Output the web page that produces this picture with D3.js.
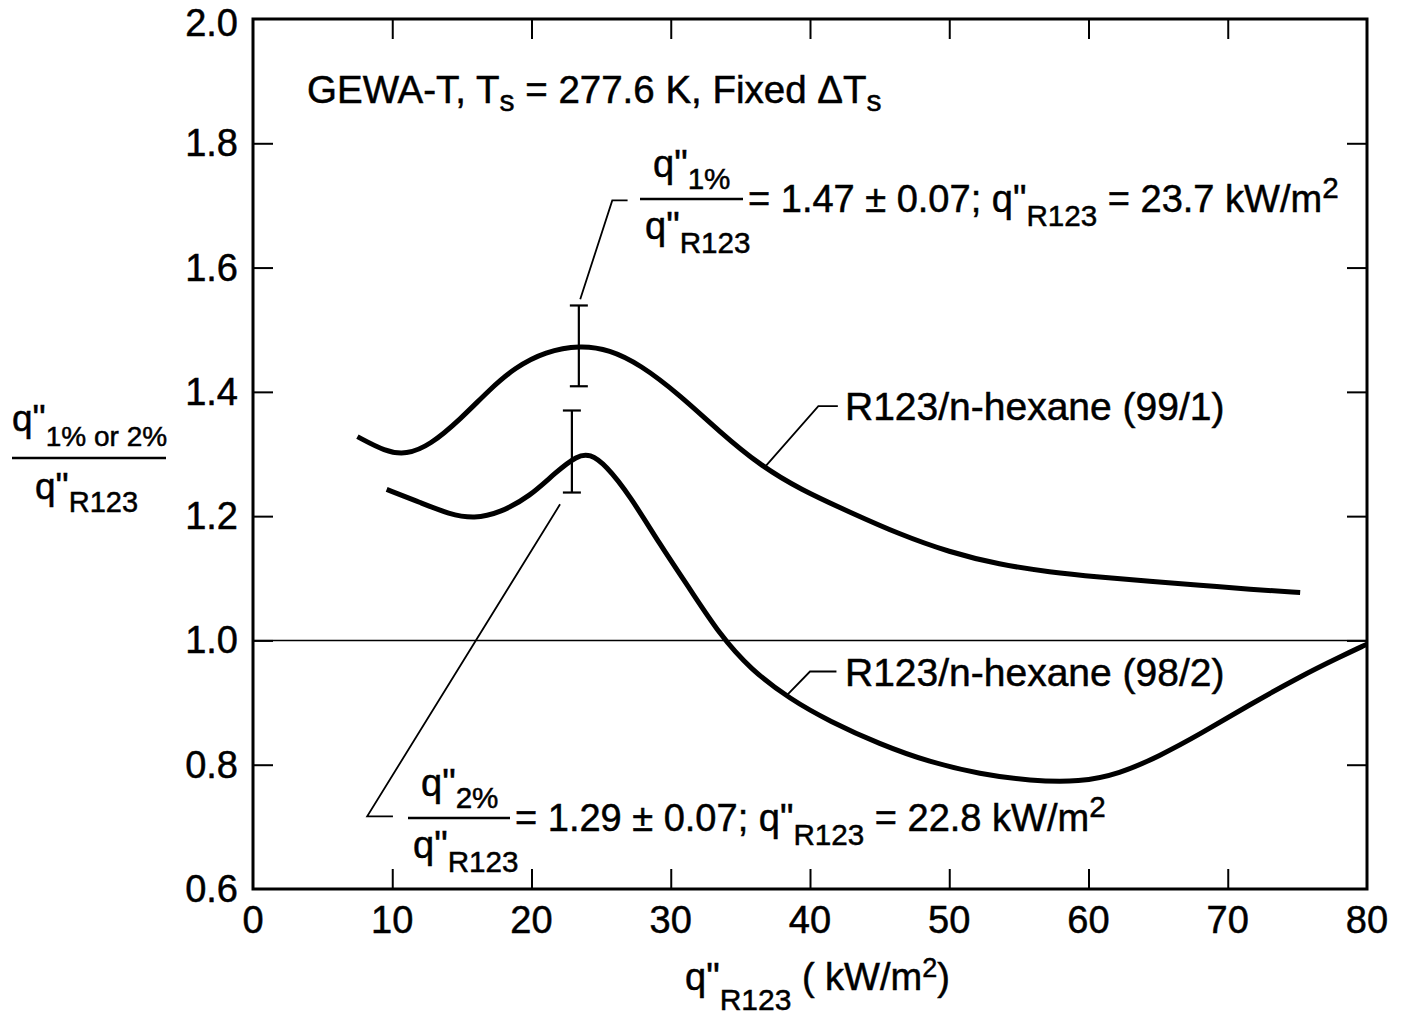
<!DOCTYPE html>
<html>
<head>
<meta charset="utf-8">
<script src="https://cdn.jsdelivr.net/npm/d3@7"></script>
<style>
  body { margin: 0; background: #fff; }
  text { font-family: "Liberation Sans", Arial, Helvetica, sans-serif; fill: #000; stroke: #000; stroke-width: 0.5; }
</style>
</head>
<body>
<div id="chart"></div>
<script>
// heat flux q"R123 (kW/m2) and ratio q"mix / q"R123
const hex99x = [7.5, 9.5, 11.0, 12.7, 14.9, 17.0, 18.8, 21.0, 23.5, 25.6, 27.8, 30.6, 33.5, 36.4, 39.3, 42.9, 46.4, 50.0, 53.6, 57.2, 60.8, 64.4, 68.0, 71.6, 75.2]
const hex99y = [1.328, 1.304, 1.299, 1.314, 1.356, 1.404, 1.439, 1.465, 1.475, 1.468, 1.444, 1.396, 1.336, 1.282, 1.243, 1.206, 1.171, 1.142, 1.122, 1.110, 1.102, 1.095, 1.089, 1.082, 1.077]

const hex98x = [9.6, 12.0, 14.1, 15.9, 17.7, 19.9, 21.7, 23.3, 24.2, 25.3, 27.1, 29.2, 31.4, 33.5, 35.7, 38.6, 41.4, 45.0, 48.6, 52.2, 55.8, 59.4, 62.2, 65.1, 68.0, 71.6, 75.2, 78.0, 80.0]
const hex98y = [1.243, 1.222, 1.203, 1.196, 1.205, 1.232, 1.270, 1.298, 1.300, 1.283, 1.232, 1.155, 1.082, 1.010, 0.954, 0.905, 0.870, 0.833, 0.804, 0.785, 0.774, 0.772, 0.785, 0.814, 0.849, 0.897, 0.942, 0.973, 0.994]

// error bars at the peaks: [x, low, high]
const err99 = [23.4, 1.409, 1.539]
const err98 = [22.9, 1.238, 1.370]

const xTicks = [0, 10, 20, 30, 40, 50, 60, 70, 80]
const yTicks = [0.6, 0.8, 1.0, 1.2, 1.4, 1.6, 1.8, 2.0]

const W = 1402, H = 1027

const svg = d3.select('#chart')
  .append('svg')
  .attr('width', W)
  .attr('height', H)

const x = d3.scaleLinear().domain([0, 80]).range([253, 1367])
const y = d3.scaleLinear().domain([0.6, 2.0]).range([889, 19])

// ticks inside, on all four sides
svg.append('g')
  .attr('transform', 'translate(0,' + y(0.6) + ')')
  .call(d3.axisBottom(x).tickValues(xTicks.slice(1, -1)).tickSizeInner(-20).tickSizeOuter(0).tickFormat(''))
svg.append('g')
  .attr('transform', 'translate(0,' + y(2.0) + ')')
  .call(d3.axisTop(x).tickValues(xTicks.slice(1, -1)).tickSizeInner(-20).tickSizeOuter(0).tickFormat(''))
svg.append('g')
  .attr('transform', 'translate(' + x(0) + ',0)')
  .call(d3.axisLeft(y).tickValues(yTicks.slice(1, -1)).tickSizeInner(-20).tickSizeOuter(0).tickFormat(''))
svg.append('g')
  .attr('transform', 'translate(' + x(80) + ',0)')
  .call(d3.axisRight(y).tickValues(yTicks.slice(1, -1)).tickSizeInner(-20).tickSizeOuter(0).tickFormat(''))

svg.selectAll('.domain').remove()
svg.selectAll('.tick line').attr('stroke', '#000').attr('stroke-width', 2)

svg.append('rect')
  .attr('x', x(0)).attr('y', y(2.0))
  .attr('width', x(80) - x(0)).attr('height', y(0.6) - y(2.0))
  .attr('fill', 'none').attr('stroke', '#000').attr('stroke-width', 3)

// tick labels
svg.selectAll('.xl')
  .data(xTicks)
  .enter()
  .append('text')
  .attr('x', d => x(d))
  .attr('y', 933)
  .attr('text-anchor', 'middle')
  .attr('font-size', 38)
  .text(d => d)

svg.selectAll('.yl')
  .data(yTicks)
  .enter()
  .append('text')
  .attr('x', 238)
  .attr('y', d => Math.max(y(d) + 13, 36))
  .attr('text-anchor', 'end')
  .attr('font-size', 38)
  .text(d => d.toFixed(1))

// reference line at 1.0
svg.append('line')
  .attr('x1', x(0)).attr('x2', x(80))
  .attr('y1', y(1.0)).attr('y2', y(1.0))
  .attr('stroke', '#000').attr('stroke-width', 1.5)

const line = d3.line()
  .x(d => x(d[0]))
  .y(d => y(d[1]))
  .curve(d3.curveBasis)

svg.append('path')
  .datum(d3.zip(hex99x, hex99y))
  .attr('d', line)
  .attr('fill', 'none').attr('stroke', '#000').attr('stroke-width', 5)

svg.append('path')
  .datum(d3.zip(hex98x, hex98y))
  .attr('d', line)
  .attr('fill', 'none').attr('stroke', '#000').attr('stroke-width', 5)

// error bars
for (const e of [err99, err98]) {
  const g = svg.append('g').attr('stroke', '#000').attr('stroke-width', 2.2)
  g.append('line').attr('x1', x(e[0])).attr('x2', x(e[0])).attr('y1', y(e[1])).attr('y2', y(e[2]))
  g.append('line').attr('x1', x(e[0]) - 9).attr('x2', x(e[0]) + 9).attr('y1', y(e[1])).attr('y2', y(e[1]))
  g.append('line').attr('x1', x(e[0]) - 9).attr('x2', x(e[0]) + 9).attr('y1', y(e[2])).attr('y2', y(e[2]))
}

// leader lines (data units)
const leaders = [
  [[23.5, 1.549], [25.8, 1.708], [26.9, 1.708]],
  [[22.05, 1.219], [8.2, 0.717], [10.05, 0.717]],
  [[36.8, 1.280], [40.6, 1.377], [42.0, 1.377]],
  [[38.4, 0.913], [40.0, 0.950], [41.9, 0.950]]
]
const straight = d3.line().x(d => x(d[0])).y(d => y(d[1]))
svg.selectAll('.leader')
  .data(leaders)
  .enter()
  .append('path')
  .attr('d', straight)
  .attr('fill', 'none').attr('stroke', '#000').attr('stroke-width', 1.8)

// series labels
svg.append('text').attr('x', 845).attr('y', y(1.377) + 14).attr('font-size', 39).text('R123/n-hexane (99/1)')
svg.append('text').attr('x', 845).attr('y', y(0.950) + 14).attr('font-size', 39).text('R123/n-hexane (98/2)')

// title
const t = svg.append('text').attr('x', 307).attr('y', 103).attr('font-size', 38.5)
t.append('tspan').text('GEWA-T, T')
t.append('tspan').attr('font-size', 30).attr('dy', 8).text('s')
t.append('tspan').attr('dy', -8).text(' = 277.6 K, Fixed ΔT')
t.append('tspan').attr('font-size', 30).attr('dy', 8).text('s')

// fraction helper: q"sub / q"R123 = rest
function fraction(x0, x1, yb, numSub, parts, fs) {
  const n = svg.append('text').attr('x', x0 + 13).attr('y', yb - 22).attr('font-size', fs)
  n.append('tspan').text('q"')
  n.append('tspan').attr('font-size', fs * 0.78).attr('dy', 12).text(numSub)
  svg.append('line').attr('x1', x0).attr('x2', x1).attr('y1', yb).attr('y2', yb)
    .attr('stroke', '#000').attr('stroke-width', 2.5)
  const dn = svg.append('text').attr('x', x0 + 5).attr('y', yb + 40).attr('font-size', fs)
  dn.append('tspan').text('q"')
  dn.append('tspan').attr('font-size', fs * 0.78).attr('dy', 14).text('R123')
  const m = svg.append('text').attr('x', x1 + 5).attr('y', yb + 13).attr('font-size', fs)
  let sub = false
  for (const p of parts) {
    if (p.sub) {
      m.append('tspan').attr('font-size', fs * 0.78).attr('dy', 14).text(p.t)
      sub = true
    } else if (p.sup) {
      m.append('tspan').attr('font-size', fs * 0.78).attr('dy', -14).text(p.t)
      sub = 'sup'
    } else {
      m.append('tspan').attr('dy', sub === true ? -14 : sub === 'sup' ? 14 : 0).text(p.t)
      sub = false
    }
  }
}

fraction(640, 743, 199, '1%', [
  { t: '= 1.47 ± 0.07; q"' }, { t: 'R123', sub: true }, { t: ' = 23.7 kW/m' }, { t: '2', sup: true }
], 38)
fraction(408, 510, 818, '2%', [
  { t: '= 1.29 ± 0.07; q"' }, { t: 'R123', sub: true }, { t: ' = 22.8 kW/m' }, { t: '2', sup: true }
], 38)

// y axis title
const yt = svg.append('text').attr('x', 12).attr('y', 431).attr('font-size', 37)
yt.append('tspan').text('q"')
yt.append('tspan').attr('font-size', 28).attr('dy', 15).text('1% or 2%')
svg.append('line').attr('x1', 12).attr('x2', 166).attr('y1', 458).attr('y2', 458)
  .attr('stroke', '#000').attr('stroke-width', 2.5)
const yb = svg.append('text').attr('x', 35).attr('y', 499).attr('font-size', 37)
yb.append('tspan').text('q"')
yb.append('tspan').attr('font-size', 29).attr('dy', 13).text('R123')

// x axis title
const xt = svg.append('text').attr('x', 685).attr('y', 990).attr('font-size', 38)
xt.append('tspan').text('q"')
xt.append('tspan').attr('font-size', 30).attr('dy', 20).text('R123')
xt.append('tspan').attr('dy', -20).text(' ( kW/m')
xt.append('tspan').attr('font-size', 27).attr('dy', -13).text('2')
xt.append('tspan').attr('dy', 13).text(')')
</script>
</body>
</html>
